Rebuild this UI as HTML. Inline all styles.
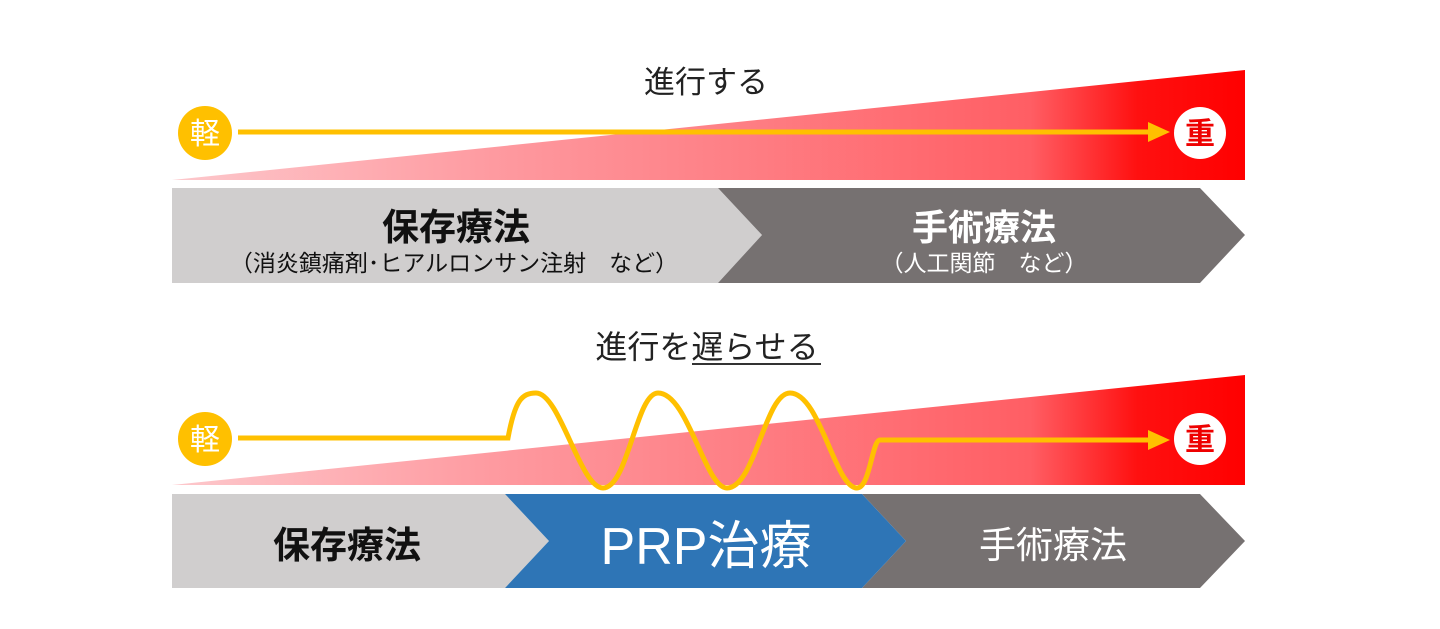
<!DOCTYPE html>
<html><head><meta charset="utf-8"><style>
html,body{margin:0;padding:0;background:#fff;}
svg{display:block;}
text{font-family:"Liberation Sans","Noto Sans CJK JP",sans-serif;}
</style></head><body>
<svg width="1440" height="629" viewBox="0 0 1440 629" xmlns="http://www.w3.org/2000/svg">
<defs>
<linearGradient id="g" x1="0" y1="0" x2="1" y2="0">
<stop offset="0" stop-color="#fdc8cc"/>
<stop offset="0.3" stop-color="#fe9aa0"/>
<stop offset="0.8" stop-color="#ff5e64"/>
<stop offset="0.9" stop-color="#ff1010"/>
<stop offset="1" stop-color="#ff0000"/>
</linearGradient>
</defs>
<!-- Top -->
<text x="706" y="93" font-size="31" fill="#222" text-anchor="middle">進行する</text>
<polygon points="172,180 1245,70 1245,180" fill="url(#g)"/>
<line x1="238" y1="132" x2="1152" y2="132" stroke="#ffc000" stroke-width="5"/>
<polygon points="1148,122 1170,132 1148,142" fill="#ffc000"/>
<circle cx="205" cy="133" r="27" fill="#ffc000"/>
<text x="205" y="144" font-size="30" fill="#fff" text-anchor="middle">軽</text>
<circle cx="1200" cy="133" r="26" fill="#fff"/>
<text x="1200" y="144" font-size="30" fill="#e00" text-anchor="middle" font-weight="bold">重</text>
<polygon points="172,188 718,188 762,235 718,283 172,283" fill="#d0cece"/>
<polygon points="718,188 1200,188 1245,235 1200,283 718,283 762,235" fill="#767171"/>
<text x="456" y="240" font-size="37" fill="#111" text-anchor="middle" font-weight="bold">保存療法</text>
<text x="454" y="271" font-size="23" fill="#111" text-anchor="middle">（消炎鎮痛剤･ヒアルロンサン注射　など）</text>
<text x="984" y="240" font-size="36" fill="#fff" text-anchor="middle" font-weight="bold">手術療法</text>
<text x="984" y="271" font-size="23" fill="#fff" text-anchor="middle">（人工関節　など）</text>
<!-- Bottom -->
<text x="707" y="358" font-size="32" fill="#222" text-anchor="middle">進行を遅らせる</text>
<line x1="692" y1="364" x2="821" y2="364" stroke="#333" stroke-width="2"/>
<polygon points="172,485 1245,375 1245,485" fill="url(#g)"/>
<path d="M238,438 L508,438 C515,400 522,393 536,393 C560,393 580,488 603,488 C628,488 636,393 658,393 C688,393 705,488 727,488 C755,488 765,393 790,393 C820,393 835,488 857,488 C870,488 872,440 880,440 L1152,440" fill="none" stroke="#ffc000" stroke-width="5"/>
<polygon points="1148,430 1170,440 1148,450" fill="#ffc000"/>
<circle cx="205" cy="439" r="27" fill="#ffc000"/>
<text x="205" y="450" font-size="30" fill="#fff" text-anchor="middle">軽</text>
<circle cx="1200" cy="439" r="26" fill="#fff"/>
<text x="1200" y="450" font-size="30" fill="#e00" text-anchor="middle" font-weight="bold">重</text>
<polygon points="172,494 505,494 549,541 505,588 172,588" fill="#d0cece"/>
<polygon points="862,494 1200,494 1245,541 1200,588 862,588 906,541" fill="#767171"/>
<polygon points="505,494 862,494 906,541 862,588 505,588 549,541" fill="#2e75b6"/>
<text x="347" y="558" font-size="37" fill="#111" text-anchor="middle" font-weight="bold">保存療法</text>
<text x="706" y="564" font-size="52" fill="#fff" text-anchor="middle">PRP治療</text>
<text x="1053" y="558" font-size="37" fill="#fff" text-anchor="middle">手術療法</text>
</svg>
</body></html>
